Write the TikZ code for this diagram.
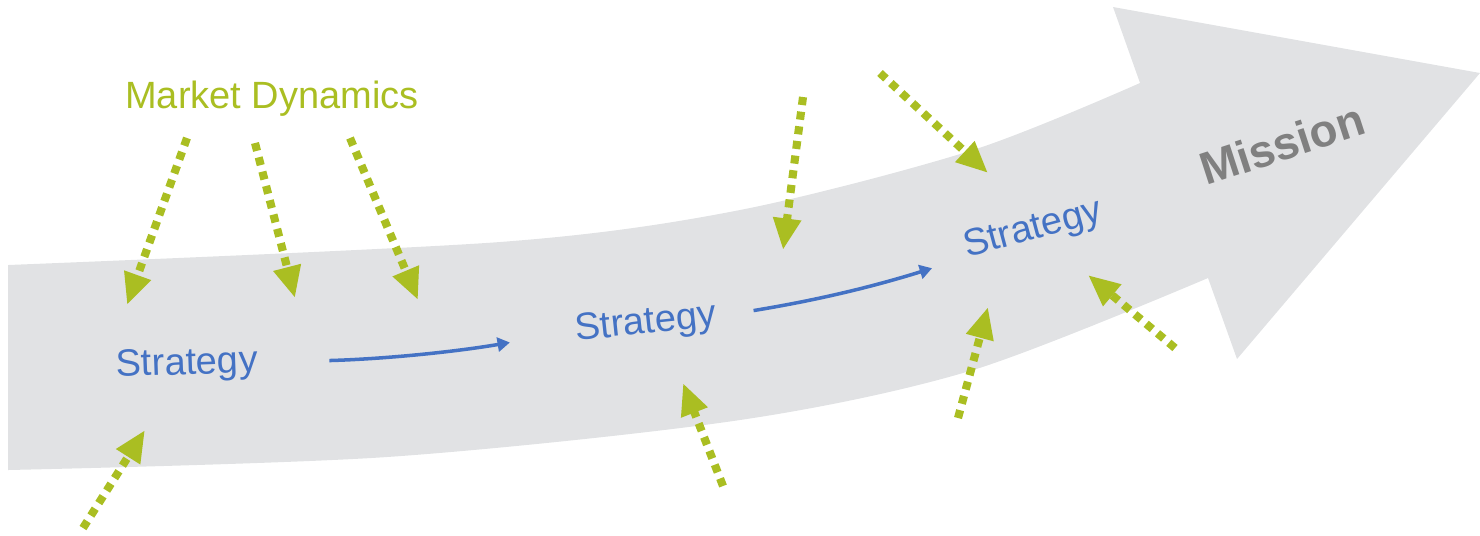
\documentclass[tikz,border=0pt]{standalone}
\usepackage{fontspec}
\setmainfont{Liberation Sans}
\usetikzlibrary{arrows.meta}
\definecolor{bandgray}{RGB}{225,226,228}
\definecolor{dyngreen}{RGB}{170,190,34}
\definecolor{stratblue}{RGB}{68,114,196}
\definecolor{missiongray}{RGB}{128,128,128}

\begin{document}
\begin{tikzpicture}[x=0.01cm,y=-0.01cm,
    force/.style={draw=dyngreen,line width=2.3pt,dash pattern=on 2.3pt off 1.9pt,
      -{Triangle[length=9pt,width=7.5pt]}},
    strat/.style={text=stratblue,inner sep=0pt,font=\fontsize{10.8}{13}\selectfont},
    flow/.style={draw=stratblue,line width=1pt,-{Triangle[length=3.5pt,width=4pt]}}]
  \useasboundingbox (0,0) rectangle (1480,535);
  \fill[bandgray] plot[smooth] coordinates {(8,265) (500,242) (740,210) (973,150) (1140,83)}
    -- (1113,7) -- (1480,73) -- (1237,359) -- (1208,278)
    -- plot[smooth] coordinates {(1208,278) (973,370) (740,420) (387,457) (8,470)} -- cycle;

  \node[text=dyngreen,inner sep=0pt,font=\fontsize{10.8}{13}\selectfont] (md) at (272,99) {Market Dynamics};
  \node[strat,rotate=2] (s1) at (187,365) {Strategy};
  \node[strat,rotate=6] (s2) at (646,324) {Strategy};
  \node[strat,rotate=15] (s3) at (1033,230) {Strategy};
  \node[text=missiongray,inner sep=0pt,font=\bfseries\fontsize{13}{15}\selectfont,rotate=18] (mission) at (1282,144) {Mission};

  \foreach \n/\fx/\fy/\tx/\ty in {1/187/138/127/305, 2/255/143/295/298, 3/350/138/418/300,
      4/803/97/783/250, 5/880/73/988/173, 6/958/418/988/307, 7/1175/348/1088/275,
      8/83/528/145/430, 9/723/486/683/383}
  {
    \coordinate (push\n) at (\fx,\fy);
    \coordinate (tip\n) at (\tx,\ty);
    \draw[force] (push\n) -- (tip\n);
  }

  \draw[flow,shorten <=0.71cm,shorten >=0.66cm] (s1.east) to[bend right=4] (s2.west);
  \draw[flow,shorten <=0.37cm,shorten >=0.36cm] (s2.east) to[bend right=4] (s3.base west);
\end{tikzpicture}
\end{document}
